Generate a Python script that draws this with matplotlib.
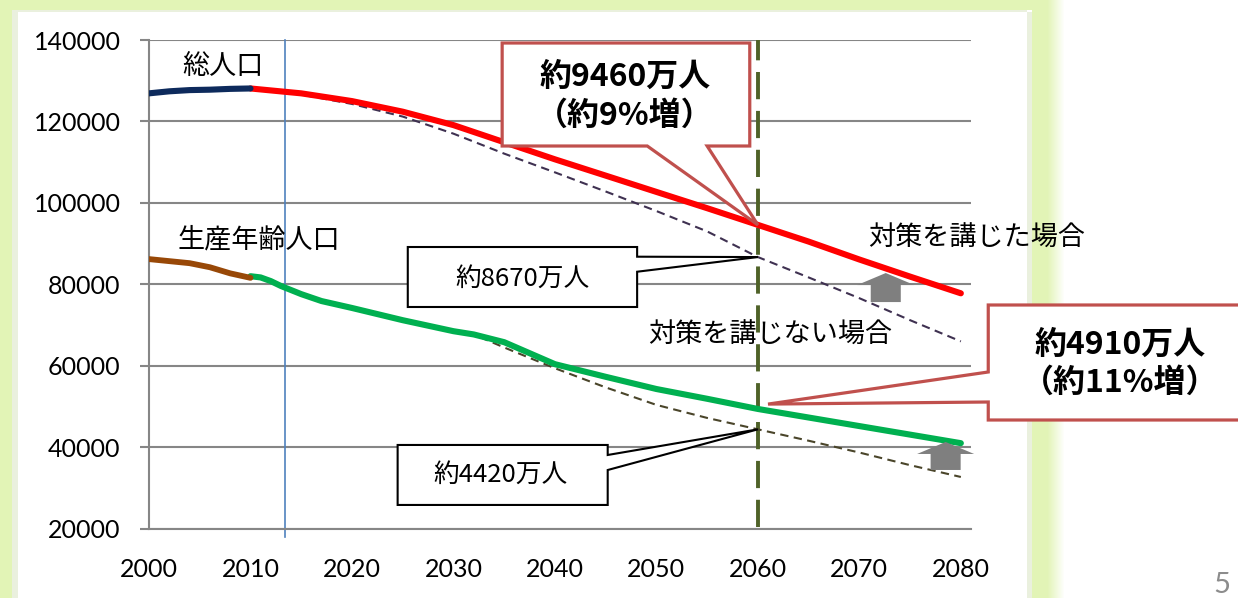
import matplotlib
matplotlib.use("Agg")
import matplotlib.pyplot as plt
from matplotlib.patches import Polygon
import numpy as np

W, H, DPI = 1238, 598, 100

# ---- data (千人) ----
hist_years = [2000, 2002, 2004, 2006, 2008, 2010]
total_hist = [126900, 127400, 127700, 127800, 128000, 128100]
prod_hist = [86200, 85700, 85200, 84200, 82700, 81600]

total_years = [2010, 2015, 2020, 2025, 2030, 2035, 2040, 2045, 2050, 2055, 2060, 2065, 2070, 2075, 2080]
total_measures = [128100, 126900, 125000, 122400, 119100, 114900, 110700, 106700, 102700, 98700, 94600, 90500, 86100, 81900, 77800]
total_no = [128100, 126600, 124300, 121200, 117000, 112100, 107500, 102800, 98000, 93000, 86700, 81700, 76600, 71200, 66000]

prod_years = [2010, 2011, 2012, 2013, 2015, 2017, 2020, 2025, 2030, 2032, 2035, 2040, 2045, 2050, 2055, 2060, 2065, 2070, 2075, 2080]
prod_measures = [82000, 81700, 80800, 79600, 77600, 75900, 74200, 71200, 68500, 67700, 65800, 60400, 57300, 54300, 51900, 49400, 47300, 45200, 43100, 41000]
prod_no_years = [2030, 2032, 2035, 2040, 2045, 2050, 2055, 2060, 2065, 2070, 2075, 2080]
prod_no = [68500, 67700, 64500, 59400, 54700, 50400, 47200, 44400, 41600, 38700, 35600, 32700]

yticks = [20000, 40000, 60000, 80000, 100000, 120000, 140000]
xticks = list(range(2000, 2081, 10))
now_year = 2013.4
target_year = 2060

plt.rcParams['font.family'] = ['Lato', 'Noto Sans CJK JP', 'DejaVu Sans']
JP = ['Noto Sans CJK JP', 'DejaVu Sans']

fig = plt.figure(figsize=(W / DPI, H / DPI), dpi=DPI)

# green slide frame behind the chart
bg = np.ones((H, W, 3))
green = np.array([226, 244, 182]) / 255
pale = np.array([234, 240, 222]) / 255
bg[:, :12] = green
bg[:, 12:18] = pale
bg[:10, :1048] = green
bg[10:12, 18:1027] = pale
bg[12:, 1027:1032] = pale
bg[10:, 1032:1048] = green
for i, x in enumerate(range(1048, 1064)):
    t = (i + 1) / 17
    bg[:, x] = green * (1 - t) + t
fig.figimage(bg, xo=0, yo=0, origin='upper', zorder=0)

ax = fig.add_axes([149 / W, 69.3 / H, 822 / W, 488.7 / H])
ax.set_zorder(2)
ax.set_facecolor('none')
ax.set_xlim(2000, 2081)
ax.set_ylim(20000, 140000)

gray = '#868686'
ax.set_yticks(yticks)
ax.set_xticks(xticks)
ax.set_xticks([2000, 2060], minor=True)
ax.grid(axis='y', color=gray, lw=1.5)
ax.set_axisbelow(True)
for s in ['top', 'right']:
    ax.spines[s].set_visible(False)
for s in ['left', 'bottom']:
    ax.spines[s].set_color(gray)
    ax.spines[s].set_linewidth(1.5)
ax.tick_params(axis='y', length=6.5, width=1.5, color=gray, pad=14, labelsize=18)
ax.tick_params(axis='x', which='major', length=0, pad=21, labelsize=18)
ax.tick_params(axis='x', which='minor', length=6, width=1.5, color=gray)

# reference lines
ax.axvline(now_year, ymin=-0.017, ymax=1, color='#4f81bd', lw=1.2, clip_on=False, zorder=2)
ax.axvline(target_year, ymin=0.003, ymax=1, color='#4f6228', lw=2.8,
           linestyle=(0, (7, 3)), zorder=2)

# series
ax.plot(total_years, total_no, color='#3f3151', lw=1.5, ls=(0, (4, 2.6)), zorder=3)
ax.plot(prod_no_years, prod_no, color='#4a452a', lw=1.5, ls=(0, (4, 2.6)), zorder=3)
ax.plot(total_years, total_measures, color='#ff0000', lw=4.4, solid_capstyle='round', zorder=4)
ax.plot(prod_years, prod_measures, color='#00b050', lw=4.4, solid_capstyle='round', zorder=4)
ax.plot(hist_years, total_hist, color='#0d2a5c', lw=4.4, solid_capstyle='round', zorder=4)
ax.plot(hist_years, prod_hist, color='#984807', lw=4.2, solid_capstyle='round', zorder=4)

# labels
ax.text(2007.3, 133400, '総人口', family=JP, fontsize=19.5, ha='center', va='center')
ax.text(2010.8, 90900, '生産年齢人口', family=JP, fontsize=19.5, ha='center', va='center')
ax.text(2081.6, 91400, '対策を講じた場合', family=JP, fontsize=19.5, ha='center', va='center')
ax.text(2061.2, 67600, '対策を講じない場合', family=JP, fontsize=19.5, ha='center', va='center')


def callout(verts, ec, lw):
    ax.add_patch(Polygon(verts, closed=True, fc='white', ec=ec, lw=lw,
                         joinstyle='miter', clip_on=False, zorder=6))


red_ec = '#c0504d'
# 約9460万人
tip = (target_year, total_measures[total_years.index(2060)])
callout([(2034.8, 139260), (2059.2, 139260), (2059.2, 113970), (2055.0, 113970),
         tip, (2049.1, 113970), (2034.8, 113970)], red_ec, 2.3)
ax.text(2046.9, 126200, '約9460万人\n（約9%増）', family=JP, fontsize=23, weight='bold',
        ha='center', va='center', linespacing=1.25, zorder=7)

# 約4910万人
tip = (2061, 50600)
callout([(2082.7, 74930), (2110, 74930), (2110, 46690), (2082.7, 46690),
         (2082.7, 51110), tip, (2082.7, 58480)], red_ec, 2.3)
ax.text(2095.7, 60400, '約4910万人\n（約11%増）', family=JP, fontsize=23, weight='bold',
        ha='center', va='center', linespacing=1.25, zorder=7)

# 約8670万人
tip = (target_year, total_no[total_years.index(2060)])
callout([(2025.5, 74440), (2025.5, 89170), (2048.1, 89170), (2048.1, 86790),
         tip, (2048.1, 83100), (2048.1, 74440)], 'black', 1.5)
ax.text(2036.8, 81300, '約8670万人', family=JP, fontsize=18.5, ha='center', va='center', zorder=7)

# 約4420万人
tip = (target_year, prod_no[prod_no_years.index(2060)])
callout([(2024.5, 25830), (2024.5, 40560), (2045.2, 40560), (2045.2, 38100),
         tip, (2045.2, 34410), (2045.2, 25830)], 'black', 1.5)
ax.text(2034.6, 33200, '約4420万人', family=JP, fontsize=18.5, ha='center', va='center', zorder=7)


# gray "up" arrows
def up_arrow(xc, y0, y1):
    hw, bw, hl = 2.81, 1.48, 2950
    verts = [(xc - bw, y0), (xc + bw, y0), (xc + bw, y1 - hl), (xc + hw, y1 - hl),
             (xc, y1), (xc - hw, y1 - hl), (xc - bw, y1 - hl)]
    ax.add_patch(Polygon(verts, closed=True, fc='#7f7f7f', ec='none', clip_on=False, zorder=5))


up_arrow(2072.6, 75650, 82780)
up_arrow(2078.5, 34420, 41300)

fig.text(1222 / W, 1 - 572 / H, '5', fontsize=21, color='#8c8c8c', ha='center', va='top',
         family='Lato')

fig.savefig('out.png', dpi=DPI)
